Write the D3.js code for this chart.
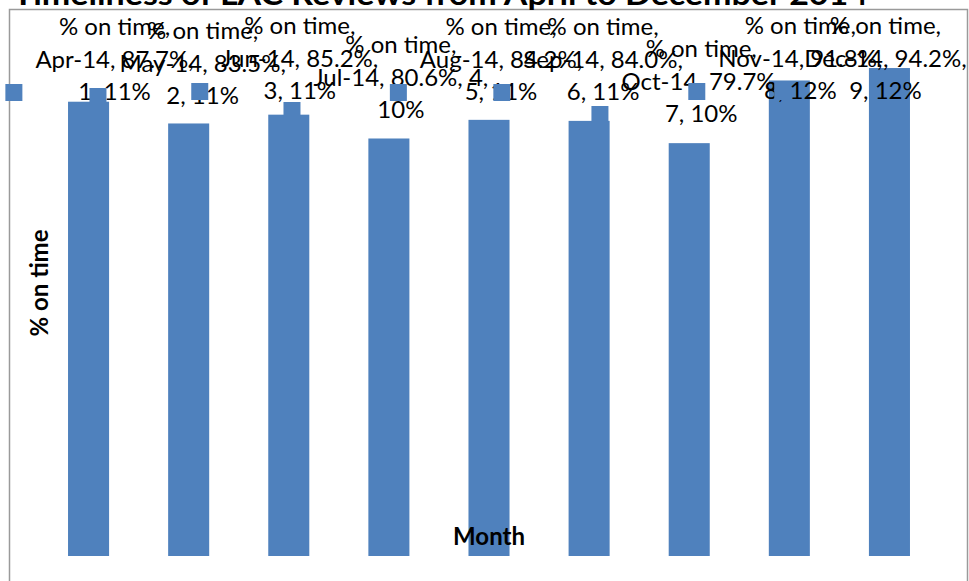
<!DOCTYPE html>
<html>
<head>
<meta charset="utf-8">
<script src="https://cdn.jsdelivr.net/npm/d3@7"></script>
<style>
  html, body { margin: 0; padding: 0; background: #fff; }
  svg { display: block; }
</style>
</head>
<body>
<svg id="chart" width="969" height="581"></svg>
<script>
// Monthly timeliness of LAC reviews, April to December 2014
const categories = ["Apr-14", "May-14", "Jun-14", "Jul-14", "Aug-14", "Sep-14", "Oct-14", "Nov-14", "Dec-14"];
const onTime = [87.7, 83.5, 85.2, 80.6, 84.2, 84.0, 79.7, 91.8, 94.2];
const seriesName = "% on time";
const chartTitle = "Timeliness of LAC Reviews from April to December 2014";
const xTitle = "Month";
const yTitle = "% on time";

// Data label placement: horizontal nudge from bar centre, top of first line,
// and the word index where each wrapped line ends.
const labelDx = [26, 14, 11, 12, 12, 14, 12, 11, -4];
const labelTop = [18, 22, 17, 36, 18, 18, 40, 17, 17];
const labelBreaks = [[3, 5], [3, 5], [3, 5], [3, 6], [3, 5], [3, 5], [3, 5], [3, 5], [3, 5]];

const W = 969, H = 581;
const barColor = "#4f81bd";
const labelFont = "Lato, 'Open Sans', sans-serif";
const labelSize = 24;
const lineH = 32.5;

const svg = d3.select("#chart");

// Chart frame
svg.append("rect")
  .attr("x", 9.5).attr("y", 9.5)
  .attr("width", 958).attr("height", 590)
  .attr("fill", "#fff")
  .attr("stroke", "#9a9a9a")
  .attr("stroke-width", 1.5);

const x = d3.scaleBand()
  .domain(categories)
  .range([38.5, 939.5])
  .padding(0);

const y = d3.scaleLinear()
  .domain([0, 100])
  .range([556, 38]);

const barW = x.bandwidth() * 0.41;
const cx = c => x(c) + x.bandwidth() / 2;

// Bars
svg.append("g")
  .selectAll("rect")
  .data(categories)
  .join("rect")
  .attr("x", c => cx(c) - barW / 2)
  .attr("y", (c, i) => y(onTime[i]))
  .attr("width", barW)
  .attr("height", (c, i) => y(0) - y(onTime[i]))
  .attr("fill", barColor);

// Axis titles
svg.append("text")
  .attr("transform", "translate(48,283) rotate(-90)")
  .attr("text-anchor", "middle")
  .attr("font-family", labelFont)
  .attr("font-weight", "bold")
  .attr("font-size", 24)
  .attr("fill", "#000")
  .text(yTitle);

svg.append("text")
  .attr("x", 489).attr("y", 545)
  .attr("text-anchor", "middle")
  .attr("font-family", labelFont)
  .attr("font-weight", "bold")
  .attr("font-size", 24)
  .attr("fill", "#000")
  .text(xTitle);

// Data labels: series, category, value, point number, share of total
const total = d3.sum(onTime);
const labelsG = svg.append("g");
const keysG = svg.append("g");

categories.forEach((c, i) => {
  const v = onTime[i];
  const share = Math.round(v / total * 100);
  const words = `${seriesName}, ${c}, ${v.toFixed(1)}%, ${i + 1}, ${share}%`.split(" ");
  const br = labelBreaks[i];
  const lines = [
    words.slice(0, br[0]).join(" "),
    words.slice(br[0], br[1]).join(" "),
    words.slice(br[1]).join(" ")
  ];
  const lx = cx(c) + labelDx[i];
  const top = labelTop[i];
  let maxW = 0;
  lines.forEach((ln, k) => {
    const t = labelsG.append("text")
      .attr("x", lx)
      .attr("y", top + k * lineH + 17)
      .attr("text-anchor", "middle")
      .attr("font-family", labelFont)
      .attr("font-size", labelSize)
      .attr("fill", "#000")
      .text(ln);
    maxW = Math.max(maxW, t.node().getComputedTextLength());
  });
  // legend key sits left of the label block, level with the last line
  keysG.append("rect")
    .attr("x", lx - maxW / 2 - 13 - 17)
    .attr("y", top + 2 * lineH + 1)
    .attr("width", 17)
    .attr("height", 17)
    .attr("fill", barColor);
});

// Chart title (runs off the top edge)
svg.append("text")
  .attr("x", 13).attr("y", 5)
  .attr("font-family", labelFont)
  .attr("font-weight", "bold")
  .attr("font-size", 31)
  .attr("textLength", 855)
  .attr("lengthAdjust", "spacingAndGlyphs")
  .attr("fill", "#000")
  .text(chartTitle);
</script>
</body>
</html>
